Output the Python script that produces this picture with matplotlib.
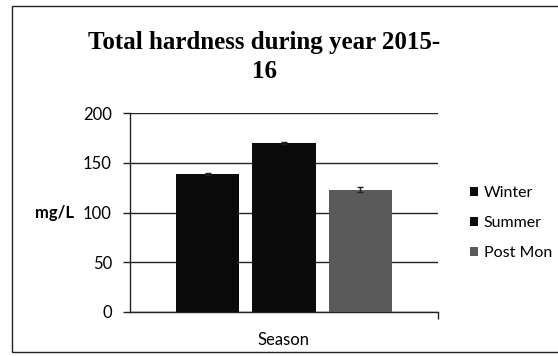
import matplotlib
matplotlib.use("Agg")
import matplotlib.pyplot as plt
from matplotlib.patches import Rectangle

# Seasonal total hardness (mg/L) with standard error
seasons = ["Winter", "Summer", "Post Mon"]
hardness = [139, 170, 123]
errors = [1, 1, 2.5]
colors = ["#0b0b0b", "#0b0b0b", "#5a5a5a"]
offsets = [-0.247, 0.0, 0.247]
yticks = [0, 50, 100, 150, 200]

fig = plt.figure(figsize=(5.58, 3.56), dpi=100)
fig.patch.set_facecolor("white")

# chart frame (right edge runs off the page)
fig.patches.append(Rectangle((12 / 558, 4 / 356), 560 / 558, 346 / 356,
                             transform=fig.transFigure, fill=False,
                             edgecolor="#222222", linewidth=1.0))

ax = fig.add_axes([130 / 558, 44 / 356, 308 / 558, 199 / 356])

for i, s in enumerate(seasons):
    ax.bar(offsets[i], hardness[i], width=0.205, color=colors[i],
           yerr=errors[i], capsize=2, error_kw=dict(ecolor="#222222", lw=1),
           label=s, zorder=3)

ax.set_xlim(-0.5, 0.5)
ax.set_ylim(0, 200)
ax.set_yticks(yticks)
ax.set_yticklabels([str(t) for t in yticks], fontfamily="Lato", fontsize=12)
ax.set_xticks([0.5])
ax.set_xticklabels([""])
ax.tick_params(axis="x", direction="out", length=5, width=1, color="#222222")
ax.tick_params(axis="y", direction="out", length=5, width=1, color="#222222", pad=8)
ax.grid(axis="y", color="#222222", linewidth=1, zorder=0)

for side in ["top", "right"]:
    ax.spines[side].set_visible(False)
for side in ["left", "bottom"]:
    ax.spines[side].set_color("#222222")
    ax.spines[side].set_linewidth(1)

ax.set_xlabel("Season", fontfamily="Lato", fontsize=12, labelpad=6)
fig.text(55 / 558, 1 - 213 / 356, "mg/L", fontfamily="Lato", fontsize=12,
         fontweight="bold", ha="center", va="center")

fig.text(264 / 558, 1 - 57 / 356, "Total hardness during year 2015-\n16",
         fontfamily="Liberation Serif", fontweight="bold", fontsize=18,
         ha="center", va="center", linespacing=1.3)

leg = fig.legend(loc="upper left", bbox_to_anchor=(464 / 558, 1 - 180 / 356),
                 frameon=False, prop={"family": "Lato", "size": 11.5},
                 handlelength=0.5, handleheight=0.5, handletextpad=0.35,
                 labelspacing=1.0, borderaxespad=0)

fig.savefig("out.png", dpi=100)
